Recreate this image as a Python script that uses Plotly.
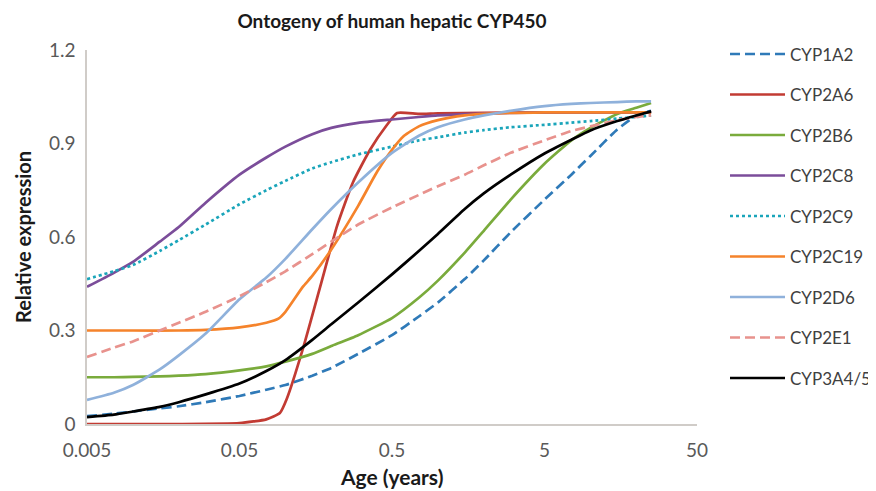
import plotly.graph_objects as go

age = [0.005, 0.0075, 0.01, 0.015, 0.02, 0.03, 0.05, 0.075, 0.1, 0.15, 0.2, 0.3,
       0.5, 0.75, 1, 1.5, 2, 3, 5, 7.5, 10, 15, 20, 25]

cyp1a2 = [0.025, 0.033, 0.04, 0.05, 0.057, 0.07, 0.09, 0.11, 0.125, 0.155, 0.18, 0.225,
          0.285, 0.345, 0.39, 0.465, 0.525, 0.615, 0.72, 0.80, 0.86, 0.945, 0.99, 1.005]
cyp2b6 = [0.15, 0.15, 0.151, 0.153, 0.155, 0.16, 0.172, 0.185, 0.20, 0.225, 0.25, 0.285,
          0.34, 0.405, 0.46, 0.55, 0.62, 0.72, 0.835, 0.91, 0.95, 0.995, 1.015, 1.03]
cyp2c8 = [0.44, 0.485, 0.52, 0.585, 0.632, 0.71, 0.80, 0.855, 0.89, 0.93, 0.95, 0.966,
          0.977, 0.985, 0.99, 0.994, 0.996, 0.998, 1.0, 1.0, 1.0, 1.0, 1.0, 1.0]
cyp2c9 = [0.465, 0.49, 0.51, 0.555, 0.59, 0.64, 0.705, 0.75, 0.78, 0.82, 0.84, 0.865,
          0.89, 0.91, 0.92, 0.935, 0.943, 0.952, 0.96, 0.967, 0.972, 0.98, 0.985, 0.99]
cyp2d6 = [0.077, 0.10, 0.125, 0.175, 0.22, 0.29, 0.40, 0.47, 0.53, 0.625, 0.69, 0.775,
          0.87, 0.925, 0.952, 0.977, 0.99, 1.005, 1.02, 1.027, 1.03, 1.033, 1.035, 1.035]
cyp2e1 = [0.215, 0.245, 0.265, 0.30, 0.325, 0.36, 0.41, 0.455, 0.49, 0.545, 0.585, 0.64,
          0.695, 0.735, 0.763, 0.80, 0.83, 0.87, 0.91, 0.94, 0.955, 0.975, 0.985, 0.99]
cyp3a4 = [0.022, 0.03, 0.04, 0.055, 0.07, 0.095, 0.13, 0.17, 0.205, 0.27, 0.32, 0.39,
          0.48, 0.555, 0.61, 0.69, 0.74, 0.80, 0.868, 0.912, 0.942, 0.972, 0.99, 1.003]

age_2a6 = [0.005, 0.01, 0.02, 0.05, 0.075, 0.092, 0.102, 0.13, 0.169, 0.218, 0.277,
           0.359, 0.464, 0.54, 0.75, 1, 2, 5, 10, 25]
cyp2a6 = [0.0, 0.0, 0.0, 0.003, 0.015, 0.035, 0.08, 0.24, 0.44, 0.635, 0.775,
          0.88, 0.96, 0.998, 0.995, 0.997, 0.998, 1.0, 1.0, 1.0]

age_2c19 = [0.005, 0.01, 0.02, 0.03, 0.05, 0.075, 0.09, 0.1, 0.13, 0.15, 0.2, 0.3,
            0.4, 0.5, 0.6, 0.75, 1, 1.5, 2, 5, 10, 25]
cyp2c19 = [0.30, 0.30, 0.30, 0.302, 0.31, 0.325, 0.338, 0.36, 0.44, 0.475, 0.56, 0.70,
           0.81, 0.88, 0.925, 0.955, 0.975, 0.99, 0.995, 1.0, 1.0, 1.0]

series = [
    ("CYP1A2", age, cyp1a2, "#2f7ab8", "10px,5px"),
    ("CYP2A6", age_2a6, cyp2a6, "#c23b33", "solid"),
    ("CYP2B6", age, cyp2b6, "#7aab3c", "solid"),
    ("CYP2C8", age, cyp2c8, "#7b4d9a", "solid"),
    ("CYP2C9", age, cyp2c9, "#1aa5ba", "3px,3px"),
    ("CYP2C19", age_2c19, cyp2c19, "#f5832b", "solid"),
    ("CYP2D6", age, cyp2d6, "#8fb1db", "solid"),
    ("CYP2E1", age, cyp2e1, "#e8928d", "10px,5px"),
    ("CYP3A4/5", age, cyp3a4, "#000000", "solid"),
]

x_ticks = [0.005, 0.05, 0.5, 5, 50]
x_ticktext = ["0.005", "0.05", "0.5", "5", "50"]
y_ticks = [0, 0.3, 0.6, 0.9, 1.2]
y_ticktext = ["0", "0.3", "0.6", "0.9", "1.2"]

# the page body adds an 8px margin, so work in screen pixels minus that offset
OFF = 8
W, H = 876 - OFF, 491 - OFF
L, R, T, B = 87 - OFF, 697 - OFF, 50 - OFF, 424 - OFF
pw, ph = R - L, B - T


def px_x(sx):
    return (sx - OFF - L) / pw


def px_y(sy):
    return (B - (sy - OFF)) / ph


fig = go.Figure()
for i, (name, xs, ys, color, dash) in enumerate(series):
    fig.add_trace(go.Scatter(
        x=xs, y=ys, name=name, mode="lines", showlegend=False,
        line=dict(color=color, width=2.7, dash=dash, shape="spline", smoothing=0.5),
    ))

font_family = "Lato, 'Open Sans', sans-serif"

# manual legend (long line samples like the original)
shapes = []
annotations = []
for i, (name, xs, ys, color, dash) in enumerate(series):
    yp = px_y(54 + i * 40.5)
    shapes.append(dict(type="line", xref="paper", yref="paper",
                       x0=px_x(730), x1=px_x(785), y0=yp, y1=yp,
                       line=dict(color=color, width=2.7, dash=dash)))
    annotations.append(dict(text=name, xref="paper", yref="paper",
                            x=px_x(788), y=yp, xanchor="left", yanchor="middle",
                            showarrow=False, font=dict(size=17, color="#404040", family=font_family)))

# axis titles
annotations.append(dict(text="<b>Age (years)</b>", xref="paper", yref="paper",
                        x=px_x(391), y=px_y(476), xanchor="center", yanchor="middle",
                        showarrow=False, font=dict(size=21, color="#1a1a1a", family=font_family)))
annotations.append(dict(text="<b>Relative expression</b>", xref="paper", yref="paper",
                        x=px_x(23), y=px_y(237), xanchor="center", yanchor="middle",
                        textangle=-90, showarrow=False,
                        font=dict(size=20, color="#1a1a1a", family=font_family)))

fig.update_layout(
    width=W, height=H,
    margin=dict(l=L, r=W - R, t=T, b=H - B),
    paper_bgcolor="white", plot_bgcolor="white",
    font=dict(family=font_family, size=19, color="#595959"),
    title=dict(text="<b>Ontogeny of human hepatic CYP450</b>", x=(392 - OFF) / W, xanchor="center",
               y=1 - (21 - OFF) / H, yanchor="middle",
               font=dict(size=19, color="#1a1a1a", family=font_family)),
    showlegend=False,
    shapes=shapes,
    annotations=annotations,
    xaxis=dict(type="log", range=[-2.30103, 1.69897], tickvals=x_ticks, ticktext=x_ticktext,
               showgrid=False, zeroline=False, showline=True, linecolor="#d0ccc8", linewidth=1.5,
               ticks="", ticklabelstandoff=8, automargin=False,
               tickfont=dict(size=19, color="#595959")),
    yaxis=dict(range=[0, 1.2], tickvals=y_ticks, ticktext=y_ticktext,
               showgrid=False, zeroline=False, showline=True, linecolor="#d0ccc8", linewidth=1.5,
               ticks="", ticklabelstandoff=6, automargin=False,
               tickfont=dict(size=19, color="#595959")),
)

fig.write_html("out.html")
